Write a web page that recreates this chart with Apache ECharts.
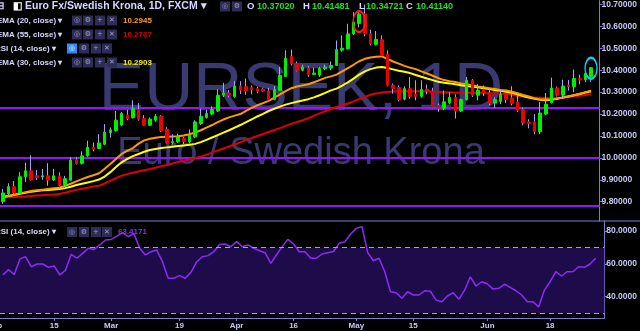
<!DOCTYPE html>
<html><head><meta charset="utf-8">
<script src="https://cdn.jsdelivr.net/npm/echarts@6/dist/echarts.min.js"></script>
<style>html,body{margin:0;padding:0;background:#000;}#c{width:640px;height:331px;}</style>
</head><body><div id="c"></div>
<script>
// ---------- data ----------
const opens = [9.800,9.836,9.869,9.840,9.914,9.941,9.918,9.913,9.918,9.899,
9.917,9.878,9.898,9.991,9.975,10.009,10.048,10.043,10.062,10.115,
10.124,10.150,10.195,10.183,10.220,10.180,10.149,10.172,10.190,10.131,
10.070,10.073,10.089,10.073,10.096,10.157,10.184,10.200,10.214,10.286,
10.296,10.280,10.328,10.326,10.322,10.316,10.314,10.305,10.266,10.308,
10.372,10.463,10.430,10.400,10.410,10.381,10.378,10.407,10.410,10.422,
10.492,10.498,10.566,10.613,10.657,10.566,10.518,10.539,10.472,10.331,
10.321,10.268,10.316,10.290,10.281,10.314,10.305,10.238,10.226,10.252,
10.276,10.214,10.266,10.354,10.286,10.312,10.296,10.250,10.258,10.293,
10.273,10.255,10.220,10.164,10.164,10.119,10.200,10.253,10.319,10.286,
10.332,10.325,10.363,10.357,10.37020];
const closes = [9.840,9.869,9.841,9.914,9.941,9.899,9.911,9.918,9.899,9.918,
9.876,9.905,9.991,9.974,10.009,10.048,10.040,10.068,10.118,10.128,
10.172,10.203,10.180,10.225,10.177,10.149,10.177,10.190,10.123,10.069,
10.074,10.096,10.075,10.104,10.164,10.190,10.203,10.221,10.286,10.296,
10.286,10.328,10.309,10.305,10.312,10.305,10.305,10.266,10.311,10.377,
10.454,10.430,10.400,10.415,10.381,10.387,10.408,10.414,10.422,10.494,
10.500,10.566,10.619,10.657,10.566,10.521,10.541,10.468,10.331,10.316,
10.266,10.316,10.281,10.281,10.312,10.305,10.230,10.227,10.256,10.276,
10.214,10.266,10.354,10.286,10.309,10.296,10.250,10.266,10.290,10.266,
10.248,10.218,10.160,10.157,10.119,10.205,10.245,10.319,10.286,10.328,
10.325,10.362,10.356,10.385,10.41140];
const lows = [9.790,9.825,9.835,9.835,9.890,9.896,9.899,9.900,9.873,9.895,
9.871,9.872,9.895,9.970,9.970,10.005,10.030,10.040,10.058,10.093,
10.120,10.145,10.172,10.180,10.170,10.145,10.145,10.165,10.118,10.066,
10.062,10.069,10.062,10.066,10.090,10.150,10.180,10.195,10.210,10.278,
10.277,10.275,10.292,10.288,10.290,10.295,10.300,10.263,10.263,10.305,
10.370,10.422,10.395,10.395,10.370,10.378,10.370,10.400,10.400,10.420,
10.485,10.495,10.560,10.596,10.555,10.513,10.513,10.463,10.327,10.293,
10.258,10.263,10.270,10.263,10.275,10.290,10.226,10.210,10.218,10.245,
10.180,10.210,10.262,10.278,10.263,10.282,10.240,10.228,10.245,10.250,
10.240,10.210,10.149,10.135,10.108,10.108,10.195,10.248,10.280,10.270,
10.307,10.300,10.336,10.345,10.34721];
const highs = [9.858,9.884,9.895,9.935,9.978,10.012,9.945,9.950,9.976,9.950,
9.934,9.918,10.004,10.004,10.030,10.078,10.070,10.108,10.154,10.139,
10.214,10.210,10.220,10.263,10.250,10.195,10.185,10.200,10.195,10.140,
10.108,10.110,10.096,10.130,10.172,10.225,10.220,10.235,10.313,10.343,
10.310,10.350,10.350,10.362,10.330,10.325,10.320,10.320,10.327,10.415,
10.491,10.494,10.440,10.425,10.420,10.412,10.415,10.425,10.440,10.536,
10.559,10.612,10.665,10.668,10.700,10.585,10.579,10.559,10.490,10.339,
10.331,10.327,10.369,10.354,10.354,10.335,10.320,10.248,10.308,10.300,
10.290,10.270,10.369,10.360,10.336,10.330,10.317,10.276,10.310,10.300,
10.327,10.290,10.230,10.176,10.200,10.255,10.296,10.366,10.326,10.357,
10.356,10.403,10.380,10.400,10.41481];
const ema20 = [9.822,9.826,9.832,9.838,9.843,9.849,9.852,9.855,9.858,9.861,
9.864,9.872,9.882,9.893,9.903,9.913,9.921,9.930,9.950,9.972,
9.995,10.018,10.032,10.045,10.065,10.080,10.087,10.092,10.095,10.097,
10.098,10.099,10.102,10.108,10.116,10.126,10.138,10.150,10.163,10.175,
10.185,10.193,10.200,10.215,10.228,10.240,10.250,10.260,10.275,10.290,
10.305,10.318,10.326,10.331,10.336,10.345,10.355,10.365,10.372,10.380,
10.395,10.410,10.425,10.441,10.452,10.458,10.462,10.463,10.452,10.440,
10.430,10.420,10.412,10.405,10.395,10.385,10.375,10.364,10.355,10.350,
10.346,10.340,10.336,10.332,10.326,10.322,10.318,10.314,10.310,10.308,
10.302,10.295,10.287,10.280,10.272,10.267,10.266,10.267,10.271,10.276,
10.281,10.286,10.293,10.300,10.307];
const ema30 = [9.822,9.826,9.831,9.836,9.841,9.846,9.849,9.852,9.854,9.856,
9.858,9.862,9.868,9.876,9.882,9.888,9.894,9.901,9.915,9.935,
9.958,9.980,9.995,10.008,10.018,10.028,10.036,10.041,10.045,10.048,
10.051,10.054,10.057,10.060,10.064,10.072,10.082,10.093,10.104,10.115,
10.126,10.138,10.150,10.163,10.176,10.189,10.201,10.214,10.224,10.234,
10.243,10.250,10.256,10.262,10.268,10.276,10.286,10.297,10.308,10.316,
10.330,10.345,10.362,10.380,10.395,10.405,10.412,10.415,10.410,10.404,
10.398,10.393,10.387,10.378,10.370,10.362,10.355,10.347,10.343,10.340,
10.336,10.332,10.328,10.325,10.322,10.318,10.314,10.310,10.306,10.302,
10.297,10.290,10.282,10.276,10.270,10.265,10.263,10.265,10.270,10.275,
10.280,10.286,10.292,10.298,10.304];
const ema55 = [9.819,9.820,9.821,9.823,9.824,9.826,9.828,9.830,9.832,9.833,
9.835,9.841,9.848,9.854,9.859,9.864,9.869,9.873,9.883,9.895,
9.907,9.919,9.926,9.932,9.938,9.944,9.949,9.955,9.962,9.968,
9.974,9.981,9.987,9.993,9.999,10.006,10.015,10.024,10.034,10.043,
10.052,10.061,10.071,10.082,10.091,10.100,10.109,10.118,10.127,10.136,
10.146,10.155,10.164,10.172,10.181,10.192,10.203,10.213,10.223,10.232,
10.240,10.248,10.258,10.268,10.278,10.288,10.294,10.298,10.301,10.303,
10.304,10.304,10.304,10.304,10.304,10.303,10.302,10.301,10.300,10.299,
10.297,10.297,10.297,10.297,10.297,10.296,10.295,10.294,10.293,10.293,
10.288,10.284,10.280,10.276,10.275,10.274,10.273,10.272,10.272,10.274,
10.278,10.281,10.284,10.287,10.290];
const rsi14 = [53.2,56.5,53.5,63.0,64.3,58.2,59.9,59.9,57.9,58.7,
53.2,56.2,65.8,63.4,66.4,69.5,68.8,71.5,74.5,74.9,
76.9,79.0,76.5,78.4,69.5,65.4,67.4,68.4,61.3,51.2,
51.2,52.8,51.2,54.8,61.3,64.3,65.0,67.4,71.8,72.1,
70.4,73.5,70.4,71.5,69.5,68.0,66.8,60.3,65.4,70.5,
74.9,72.1,67.4,67.4,63.4,63.4,66.0,66.8,67.5,72.5,
73.5,78.2,81.6,82.6,66.8,61.9,63.4,55.2,43.0,42.4,
39.0,43.0,41.0,41.0,43.6,43.3,37.9,36.9,40.4,42.4,
38.4,44.0,52.1,46.5,49.1,47.7,44.6,45.1,47.7,45.7,
43.6,41.0,36.9,36.9,33.8,44.0,49.1,55.2,52.6,55.2,
55.2,58.2,57.9,59.9,63.4171];
const priceTicks = [9.8,9.9,10.0,10.1,10.2,10.3,10.4,10.5,10.6,10.7];
const rsiTicks = [40,60,80];
const rsiBands = [30,70];
const supportLevels = [10.231,10.0,9.775];
const tickLabels = {'2018-02-15':'15','2018-03-01':'Mar','2018-03-19':'19','2018-04-02':'Apr',
  '2018-04-16':'16','2018-05-01':'May','2018-05-15':'15','2018-06-01':'Jun','2018-06-18':'18'};
const circled = [{i:63, p:10.622, color:'#ff1a1a'}, {i:104, p:10.409, color:'#19c6f2'}];
const lastClose = 10.41140;

// trading-day categories (weekdays from 2 Feb 2018), one spare slot at the right
const dates = [];
(function(){ const d = new Date(Date.UTC(2018,1,2));
  while (dates.length < 106) { const w = d.getUTCDay();
    if (w !== 0 && w !== 6) dates.push(d.toISOString().slice(0,10));
    d.setUTCDate(d.getUTCDate()+1); } })();

const wickData = opens.map((o,k)=>[o, closes[k], lows[k], highs[k]]);
const bodyData = opens.map((o,k)=>[o, closes[k], Math.min(o,closes[k]), Math.max(o,closes[k])]);

// ---------- chart ----------
const FONT = 'Liberation Sans, Arial, sans-serif';
const AX = '#7d7dd0', LAB = '#c8c8f8', LEG = '#d8d8ff';
const chart = echarts.init(document.getElementById('c'), null, {renderer:'canvas'});

const G = [];
function t(x,y,s,fill,size,extra){ G.push(Object.assign({type:'text', x:x, y:y, z:10, silent:true,
  style:{text:s, fill:fill, font:'bold '+size+'px '+FONT, align:'left', verticalAlign:'middle'}}, extra||{})); }
function box(x,y,glyph,bg,fg){ G.push({type:'rect', z:10, silent:true, shape:{x:x, y:y-5, width:10, height:10}, style:{fill:bg}});
  G.push({type:'text', z:11, silent:true, x:x+5, y:y, style:{text:glyph, fill:fg, font:'7px DejaVu Sans', align:'center', verticalAlign:'middle'}}); }
function icons(xs, y, hi){ const g=['◎','⚙','+','✕']; xs.forEach((x,k)=>box(x,y,g[k], (hi&&k===0)?'#2f8cff':'#2c2c54', (hi&&k===0)?'#ffffff':'#a0a0d0')); }

// watermark
G.push({type:'text', z:0, silent:true, x:301, y:91, style:{text:'EURSEK, 1D', fill:'#3a3a72', font:'68px '+FONT, align:'center', verticalAlign:'middle'}});
G.push({type:'text', z:0, silent:true, x:301, y:154, style:{text:'Euro / Swedish Krona', fill:'#3a3a72', font:'38px '+FONT, align:'center', verticalAlign:'middle'}});

// legend row 1
t(-4,6.5,'⊟','#d8d8ff',10);
t(13,6.5,'◧','#ffffff',10);
t(25,6.5,'Euro Fx/Swedish Krona, 1D, FXCM ▾',LEG,10.5);
box(220,6.5,'◎','#2c2c54','#a0a0d0'); box(232,6.5,'⚙','#2c2c54','#a0a0d0');
t(247,6.5,'O',LEG,9.5); t(257,6.5,'10.37020','#22e022',9);
t(303,6.5,'H',LEG,9.5); t(312,6.5,'10.41481','#22e022',9);
t(359,6.5,'L',LEG,9.5); t(366,6.5,'10.34721','#22e022',9);
t(406,6.5,'C',LEG,9.5); t(416,6.5,'10.41140','#22e022',9);
// indicator rows
t(-3,20.5,'EMA (20, close) ▾',LEG,8); icons([72,83,95,107],20.5); t(123,20.5,'10.2945','#ff9f00',8);
t(-3,34.5,'EMA (55, close) ▾',LEG,8); icons([72,83,95,107],34.5); t(123,34.5,'10.2767','#d40000',8);
t(-5,48.5,'RSI (14, close) ▾',LEG,8); icons([67,79,91,102],48.5,true);
t(-3,62.5,'EMA (30, close) ▾',LEG,8); icons([72,83,95,107],62.5); t(123,62.5,'10.2903','#f0f000',8);
t(-5,232,'RSI (14, close) ▾',LEG,8); icons([67,79,91,102],232); t(118,232,'63.4171','#8b2cf5',8);
// pane separator and clipped month label at left edge
G.push({type:'rect', z:9, silent:true, shape:{x:0, y:220.5, width:640, height:1}, style:{fill:AX}});
G.push({type:'text', z:10, silent:true, x:-5, y:325.5, style:{text:'Feb', fill:LAB, font:'bold 8px '+FONT, align:'center', verticalAlign:'middle'}});

const showTick = (idx, val) => tickLabels[val] !== undefined;

chart.setOption({
  animation:false,
  backgroundColor:'#000000',
  grid:[{left:-2, right:34, top:0, height:221},{left:-2, right:34, top:221, height:97}],
  xAxis:[
    {type:'category', gridIndex:0, data:dates, boundaryGap:true, axisLine:{show:false}, axisTick:{show:false}, axisLabel:{show:false}, splitLine:{show:false}},
    {type:'category', gridIndex:1, data:dates, boundaryGap:true,
      axisLine:{show:true, lineStyle:{color:AX, width:1}},
      axisTick:{show:true, interval:showTick, alignWithLabel:true, length:3, lineStyle:{color:AX}},
      axisLabel:{interval:showTick, formatter:v=>tickLabels[v]||'', color:LAB, fontSize:8, fontWeight:'bold', fontFamily:FONT, margin:4},
      splitLine:{show:false}}
  ],
  yAxis:[
    {type:'value', gridIndex:0, position:'right', min:9.712, max:10.718, scale:true,
      axisLine:{show:true, lineStyle:{color:AX}}, splitLine:{show:false},
      axisTick:{show:true, length:3, customValues:priceTicks, lineStyle:{color:AX}},
      axisLabel:{customValues:priceTicks, formatter:v=>v.toFixed(5), color:LAB, fontSize:8.5, fontWeight:'bold', fontFamily:FONT, margin:2}},
    {type:'value', gridIndex:1, position:'right', min:27, max:86.1,
      axisLine:{show:true, lineStyle:{color:AX}}, splitLine:{show:false},
      axisTick:{show:true, length:3, customValues:rsiTicks, lineStyle:{color:AX}},
      axisLabel:{customValues:rsiTicks, formatter:v=>v.toFixed(4), color:LAB, fontSize:8.5, fontWeight:'bold', fontFamily:FONT, margin:2}}
  ],
  series:[
    {type:'line', name:'EMA55', data:ema55, xAxisIndex:0, yAxisIndex:0, showSymbol:false, symbol:'none', z:2, lineStyle:{color:'#dd0000', width:2}},
    {type:'line', name:'EMA30', data:ema30, xAxisIndex:0, yAxisIndex:0, showSymbol:false, symbol:'none', z:2, lineStyle:{color:'#ffff00', width:2}},
    {type:'line', name:'EMA20', data:ema20, xAxisIndex:0, yAxisIndex:0, showSymbol:false, symbol:'none', z:2, lineStyle:{color:'#ff9900', width:2}},
    {type:'candlestick', name:'wicks', data:wickData, xAxisIndex:0, yAxisIndex:0, barWidth:0.5, z:3,
      itemStyle:{color:'#a4a4ff', color0:'#a4a4ff', borderColor:'#a4a4ff', borderColor0:'#a4a4ff', borderWidth:1},
      markLine:{silent:true, symbol:'none', z:1, label:{show:false},
        lineStyle:{color:'#9a10ff', width:2, type:'solid'},
        data:supportLevels.map(v=>({yAxis:v}))}},
    {type:'candlestick', name:'bodies', data:bodyData, xAxisIndex:0, yAxisIndex:0, barWidth:3, z:4,
      itemStyle:{color:'#00ee00', color0:'#ee0000', borderColor:'#00ee00', borderColor0:'#ee0000', borderWidth:1},
      markPoint:{silent:true, symbol:'circle', label:{show:false},
        data:circled.map(c=>({coord:[c.i, c.p], symbolSize:[12,21], itemStyle:{color:'rgba(0,0,0,0)', borderColor:c.color, borderWidth:1.8}}))},
      markLine:{silent:true, symbol:'none', lineStyle:{opacity:0},
        label:{show:true, position:'end', distance:0, formatter:lastClose.toFixed(4), color:'#7dff7d', backgroundColor:'#00dd00',
          fontSize:8.5, fontFamily:FONT, padding:[2,3,1,3]},
        data:[{yAxis:lastClose}]}},
    {type:'line', name:'RSI', data:rsi14, xAxisIndex:1, yAxisIndex:1, showSymbol:false, symbol:'none', z:3,
      lineStyle:{color:'#8b2cf5', width:1.5},
      markArea:{silent:true, itemStyle:{color:'#1d0b4a'}, data:[[{yAxis:rsiBands[0]},{yAxis:rsiBands[1]}]]},
      markLine:{silent:true, symbol:'none', label:{show:false}, lineStyle:{color:'#9c9cff', width:1, type:[5,4]},
        data:rsiBands.map(v=>({yAxis:v}))}}
  ],
  graphic:G
});
</script>
</body></html>
